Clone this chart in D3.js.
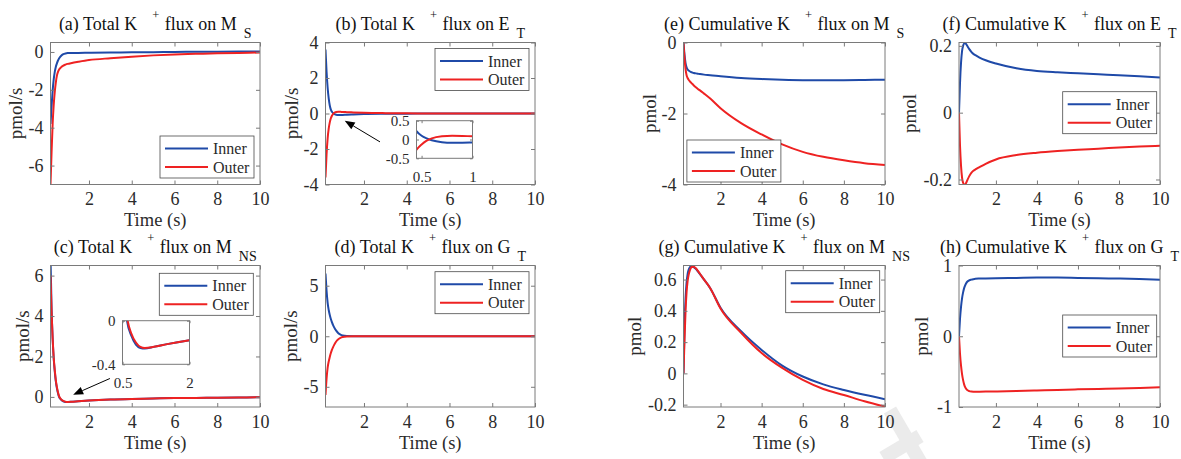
<!DOCTYPE html>
<html>
<head>
<meta charset="utf-8">
<script src="https://cdn.jsdelivr.net/npm/d3@7"></script>
<style>
  body { margin: 0; background: #fff; }
  svg text { font-family: "Liberation Serif", "Times New Roman", serif; fill: #2b2b2b; }
</style>
</head>
<body>
<svg id="fig" width="1181" height="459"></svg>
<script>
// Simulation time samples (s)
const timeS = [0.2, 0.25, 0.3, 0.35, 0.4, 0.45, 0.5, 0.55, 0.6, 0.7, 0.8, 0.9, 1.0, 1.2, 1.5, 2, 3, 4, 5, 6, 7, 8, 9, 10];
const xTicks = [2, 4, 6, 8, 10];
const seriesNames = ["Inner", "Outer"];

// Total K+ flux (pmol/s)
const fluxMsInner  = [-3.8, -2.9, -2.05, -1.45, -1.05, -0.78, -0.6, -0.45, -0.34, -0.2, -0.12, -0.08, -0.06, -0.05, -0.05, -0.04, -0.03, -0.02, -0.01, 0, 0.01, 0.015, 0.02, 0.025];
const fluxMsOuter  = [-7.0, -5.3, -3.8, -2.8, -2.1, -1.6, -1.25, -1.05, -0.93, -0.8, -0.72, -0.67, -0.63, -0.58, -0.52, -0.43, -0.33, -0.25, -0.18, -0.13, -0.1, -0.07, -0.05, -0.03];
const fluxEtInner  = [3.6, 2.35, 1.45, 0.85, 0.45, 0.22, 0.1, 0.03, -0.02, -0.07, -0.085, -0.085, -0.08, -0.065, -0.05, -0.03, -0.015, -0.008, -0.004, -0.002, 0, 0, 0, 0];
const fluxEtOuter  = [-3.6, -2.3, -1.4, -0.85, -0.5, -0.27, -0.13, -0.03, 0.03, 0.085, 0.1, 0.095, 0.085, 0.075, 0.06, 0.04, 0.02, 0.01, 0.005, 0.003, 0.002, 0.001, 0, 0];
const fluxMnsInner = [6.9, 4.4, 2.9, 1.9, 1.25, 0.75, 0.42, 0.18, 0.0, -0.14, -0.22, -0.25, -0.255, -0.24, -0.215, -0.18, -0.13, -0.1, -0.08, -0.06, -0.05, -0.04, -0.03, -0.02];
const fluxMnsOuter = [6.0, 4.2, 2.9, 1.95, 1.32, 0.82, 0.48, 0.23, 0.04, -0.12, -0.2, -0.24, -0.25, -0.24, -0.215, -0.18, -0.13, -0.1, -0.08, -0.06, -0.05, -0.04, -0.03, -0.02];
const fluxGtInner  = [6.2, 4.5, 3.3, 2.6, 2.1, 1.7, 1.4, 1.12, 0.9, 0.55, 0.3, 0.16, 0.08, 0.02, 0.005, 0, 0, 0, 0, 0, 0, 0, 0, 0];
const fluxGtOuter  = [-5.8, -4.2, -3.1, -2.5, -2.05, -1.65, -1.35, -1.1, -0.88, -0.52, -0.3, -0.16, -0.08, -0.02, -0.005, 0, 0, 0, 0, 0, 0, 0, 0, 0];

// Cumulative K+ flux (pmol)
const cumMsInner  = [0, -0.35, -0.58, -0.7, -0.76, -0.79, -0.81, -0.83, -0.84, -0.86, -0.87, -0.88, -0.89, -0.905, -0.92, -0.95, -1.0, -1.03, -1.05, -1.06, -1.06, -1.06, -1.055, -1.05];
const cumMsOuter  = [0, -0.45, -0.75, -0.92, -1.0, -1.05, -1.09, -1.12, -1.15, -1.21, -1.26, -1.31, -1.35, -1.44, -1.58, -1.85, -2.27, -2.59, -2.87, -3.08, -3.22, -3.32, -3.4, -3.45];
const cumEtInner  = [0, 0.09, 0.15, 0.185, 0.2, 0.207, 0.208, 0.205, 0.2, 0.19, 0.182, 0.176, 0.172, 0.165, 0.157, 0.147, 0.133, 0.125, 0.121, 0.118, 0.115, 0.112, 0.109, 0.105];
const cumEtOuter  = [0, -0.1, -0.16, -0.195, -0.21, -0.215, -0.215, -0.21, -0.203, -0.19, -0.18, -0.174, -0.17, -0.163, -0.153, -0.14, -0.127, -0.12, -0.115, -0.111, -0.108, -0.104, -0.101, -0.099];
const cumMnsInner = [0, 0.3, 0.48, 0.58, 0.635, 0.662, 0.677, 0.684, 0.685, 0.68, 0.668, 0.652, 0.635, 0.6, 0.545, 0.42, 0.27, 0.15, 0.05, -0.02, -0.07, -0.106, -0.137, -0.165];
const cumMnsOuter = [0, 0.22, 0.4, 0.52, 0.59, 0.63, 0.655, 0.672, 0.68, 0.682, 0.672, 0.655, 0.637, 0.6, 0.545, 0.415, 0.26, 0.13, 0.035, -0.042, -0.1, -0.138, -0.178, -0.212];
const cumGtInner  = [0, 0.25, 0.42, 0.54, 0.62, 0.68, 0.72, 0.75, 0.77, 0.79, 0.8, 0.807, 0.812, 0.815, 0.817, 0.82, 0.825, 0.83, 0.83, 0.825, 0.82, 0.815, 0.81, 0.8];
const cumGtOuter  = [0, -0.25, -0.42, -0.54, -0.62, -0.68, -0.72, -0.745, -0.76, -0.775, -0.782, -0.785, -0.786, -0.784, -0.782, -0.78, -0.775, -0.767, -0.758, -0.75, -0.744, -0.738, -0.73, -0.72];

// Page layout: axes columns (x extents) and rows (y extents)
const colX = [[50.5, 260], [325.5, 535], [683.5, 885], [959, 1160]];
const rowY = [[42.5, 184.5], [265.5, 407]];
const xDomain = [0.2, 10];
const colors = ["#1f4aa8", "#ee2222"];
const axisColor = "#7a7a7a";

const panels = [
  { id: "a", col: 0, row: 0, head: "(a) Total K", tail: " flux on M", sub: "S", yDomain: [-7, 0.5], yTicks: [-6, -4, -2, 0], data: [fluxMsInner, fluxMsOuter], yLabel: "pmol/s", yLabelOff: 28.5, legend: [109.5, 93.5] },
  { id: "b", col: 1, row: 0, head: "(b) Total K", tail: " flux on E", sub: "T", yDomain: [-4, 4], yTicks: [-4, -2, 0, 2, 4], data: [fluxEtInner, fluxEtOuter], yLabel: "pmol/s", yLabelOff: 28, legend: [109.5, 6],
    inset: { box: [91, 78.2, 56, 37.6], xDomain: [0.45, 1], yDomain: [-0.5, 0.5], xTicks: [0.5, 1], yTicks: [-0.5, 0, 0.5] },
    arrow: { from: [2.75, -1.6], to: [1.1, -0.41] } },
  { id: "c", col: 0, row: 1, head: "(c) Total K", tail: " flux on M", sub: "NS", yDomain: [-0.5, 6.5], yTicks: [0, 2, 4, 6], data: [fluxMnsInner, fluxMnsOuter], yLabel: "pmol/s", yLabelOff: 21.5, legend: [108.8, 7.8],
    inset: { box: [72, 55.2, 67, 43.6], xDomain: [0.5, 2], yDomain: [-0.4, 0], xTicks: [0.5, 2], yTicks: [-0.4, 0] },
    arrow: { from: [2.98, 0.91], to: [1.26, 0.11] } },
  { id: "d", col: 1, row: 1, head: "(d) Total K", tail: " flux on G", sub: "T", yDomain: [-7, 7], yTicks: [-5, 0, 5], data: [fluxGtInner, fluxGtOuter], yLabel: "pmol/s", yLabelOff: 28.5, legend: [109.5, 6.2] },
  { id: "e", col: 2, row: 0, head: "(e) Cumulative K", tail: " flux on M", sub: "S", yDomain: [-4, 0], yTicks: [-4, -2, 0], data: [cumMsInner, cumMsOuter], yLabel: "pmol", yLabelOff: 28, legend: [3.4, 97.5] },
  { id: "f", col: 3, row: 0, head: "(f) Cumulative K", tail: " flux on E", sub: "T", yDomain: [-0.215, 0.21], yTicks: [-0.2, 0, 0.2], data: [cumEtInner, cumEtOuter], yLabel: "pmol", yLabelOff: 43.5, legend: [103.7, 49.2] },
  { id: "g", col: 2, row: 1, head: "(g) Cumulative K", tail: " flux on M", sub: "NS", yDomain: [-0.215, 0.69], yTicks: [-0.2, 0, 0.2, 0.4, 0.6], data: [cumMnsInner, cumMnsOuter], yLabel: "pmol", yLabelOff: 43, legend: [102.2, 5.2] },
  { id: "h", col: 3, row: 1, head: "(h) Cumulative K", tail: " flux on G", sub: "T", yDomain: [-1, 1], yTicks: [-1, 0, 1], data: [cumGtInner, cumGtOuter], yLabel: "pmol", yLabelOff: 31, legend: [103.7, 49.5] }
];

const svg = d3.select("#fig");
const fmt = d => String(+d.toFixed(4));

// Faint stamp mark near the lower edge, kept underneath everything else
const stamp = svg.append("g").attr("stroke", "#ebebeb").attr("stroke-width", 14).attr("fill", "none");
stamp.append("line").attr("x1", 890).attr("y1", 410).attr("x2", 926).attr("y2", 472);
stamp.append("line").attr("x1", 883).attr("y1", 458).attr("x2", 920).attr("y2", 436);

function styleAxis(g, fontSize) {
  g.attr("font-family", null).attr("font-size", null);
  g.select(".domain").remove();
  g.selectAll(".tick line").attr("stroke", axisColor).attr("stroke-width", 1);
  g.selectAll(".tick text").style("font-size", fontSize + "px");
}

// Draws a framed axes box with inward ticks on all four sides and both series
function drawAxes(parent, x, y, xt, yt, series, opts) {
  const [x0, x1] = x.range();
  const [y1, y0] = y.range();
  const clipId = "clip-" + opts.key;
  parent.append("clipPath").attr("id", clipId)
    .append("rect").attr("x", x0).attr("y", y0).attr("width", x1 - x0).attr("height", y1 - y0);

  parent.append("rect").attr("x", x0).attr("y", y0).attr("width", x1 - x0).attr("height", y1 - y0)
    .attr("fill", "#fff");

  const line = d3.line()
    .x(d => x(d[0])).y(d => y(d[1]))
    .curve(d3.curveMonotoneX);

  const lines = parent.append("g").attr("clip-path", `url(#${clipId})`);
  series.forEach((vals, i) => {
    lines.append("path")
      .datum(timeS.map((t, k) => [t, vals[k]]))
      .attr("d", line)
      .attr("fill", "none")
      .attr("stroke", colors[i])
      .attr("stroke-width", opts.lw)
      .attr("stroke-linejoin", "round");
  });

  const tl = opts.tick;
  styleAxis(parent.append("g").attr("transform", `translate(0,${y1})`)
    .call(d3.axisBottom(x).tickValues(xt).tickSizeInner(-tl).tickSizeOuter(0).tickPadding(opts.xPad).tickFormat(fmt)), opts.fs);
  styleAxis(parent.append("g").attr("transform", `translate(0,${y0})`)
    .call(d3.axisTop(x).tickValues(xt).tickSizeInner(-tl).tickSizeOuter(0).tickFormat("")), opts.fs);
  styleAxis(parent.append("g").attr("transform", `translate(${x0},0)`)
    .call(d3.axisLeft(y).tickValues(yt).tickSizeInner(-tl).tickSizeOuter(0).tickPadding(opts.yPad).tickFormat(fmt)), opts.fs);
  styleAxis(parent.append("g").attr("transform", `translate(${x1},0)`)
    .call(d3.axisRight(y).tickValues(yt).tickSizeInner(-tl).tickSizeOuter(0).tickFormat("")), opts.fs);

  parent.append("rect").attr("x", x0).attr("y", y0).attr("width", x1 - x0).attr("height", y1 - y0)
    .attr("fill", "none").attr("stroke", axisColor).attr("stroke-width", 1);
}

panels.forEach(p => {
  const [bx0, bx1] = colX[p.col];
  const [by0, by1] = rowY[p.row];
  const g = svg.append("g").attr("class", "panel-" + p.id);

  const x = d3.scaleLinear().domain(xDomain).range([bx0, bx1]);
  const y = d3.scaleLinear().domain(p.yDomain).range([by1, by0]);

  drawAxes(g, x, y, xTicks, p.yTicks, p.data, { key: p.id, lw: 2, tick: 4, xPad: 8, yPad: 7, fs: 18 });

  // Title with K+ superscript and compartment subscript
  const title = g.append("text")
    .attr("x", (bx0 + bx1) / 2).attr("y", by0 - 12.5)
    .attr("text-anchor", "middle")
    .style("font-size", "18px").style("fill", "#111").style("white-space", "pre");
  title.append("tspan").text(p.head);
  title.append("tspan").attr("dx", 15).attr("dy", -11).style("font-size", "12.5px").text("+");
  title.append("tspan").attr("dx", 1).attr("dy", 11).text(p.tail);
  title.append("tspan").attr("dx", 7).attr("dy", 8).style("font-size", "14px").text(p.sub);

  // Axis labels
  g.append("text")
    .attr("x", (bx0 + bx1) / 2).attr("y", by1 + 41.5)
    .attr("text-anchor", "middle").style("font-size", "18.5px")
    .text("Time (s)");
  g.append("text")
    .attr("transform", `translate(${bx0 - p.yLabelOff},${(by0 + by1) / 2}) rotate(-90)`)
    .attr("text-anchor", "middle").style("font-size", "19px")
    .text(p.yLabel);

  // Zoomed inset of the early transient
  if (p.inset) {
    const [ix, iy, iw, ih] = p.inset.box;
    const xi = d3.scaleLinear().domain(p.inset.xDomain).range([bx0 + ix, bx0 + ix + iw]);
    const yi = d3.scaleLinear().domain(p.inset.yDomain).range([by0 + iy + ih, by0 + iy]);
    drawAxes(g.append("g"), xi, yi, p.inset.xTicks, p.inset.yTicks, p.data,
      { key: p.id + "-inset", lw: 2, tick: 2.5, xPad: 13, yPad: 7, fs: 15 });
  }

  // Arrow pointing from the inset to the region it magnifies
  if (p.arrow) {
    const [tx, ty] = [x(p.arrow.from[0]), y(p.arrow.from[1])];
    const [hx, hy] = [x(p.arrow.to[0]), y(p.arrow.to[1])];
    const ang = Math.atan2(hy - ty, hx - tx);
    const len = 10, half = 4;
    const bxp = hx - len * Math.cos(ang), byp = hy - len * Math.sin(ang);
    g.append("line").attr("x1", tx).attr("y1", ty).attr("x2", bxp).attr("y2", byp)
      .attr("stroke", "#000").attr("stroke-width", 1);
    const px = -Math.sin(ang) * half, py = Math.cos(ang) * half;
    g.append("path")
      .attr("d", `M${hx},${hy}L${bxp + px},${byp + py}L${bxp - px},${byp - py}Z`)
      .attr("fill", "#000");
  }

  // Legend
  const [lxo, lyo] = p.legend;
  const lx = bx0 + lxo, ly = by0 + lyo;
  const lg = g.append("g");
  lg.append("rect").attr("x", lx).attr("y", ly).attr("width", 94).attr("height", 42)
    .attr("fill", "#fff").attr("stroke", "#4a4a4a").attr("stroke-width", 0.8);
  seriesNames.forEach((name, i) => {
    const yy = ly + 12.5 + i * 18.5;
    lg.append("line").attr("x1", lx + 5).attr("x2", lx + 48).attr("y1", yy).attr("y2", yy)
      .attr("stroke", colors[i]).attr("stroke-width", 2);
    lg.append("text").attr("x", lx + 53).attr("y", yy).attr("dy", "0.35em")
      .style("font-size", "16px").text(name);
  });
});
</script>
</body>
</html>
